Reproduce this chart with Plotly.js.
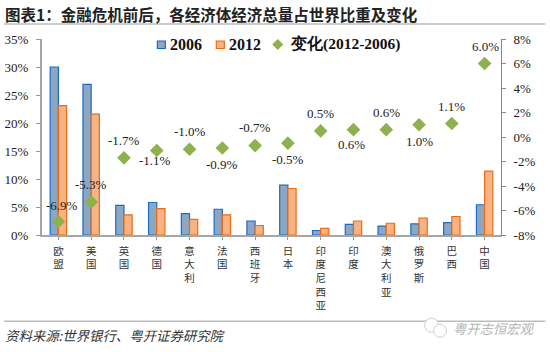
<!DOCTYPE html>
<html><head><meta charset="utf-8">
<script src="https://cdn.plot.ly/plotly-3.0.1.min.js"></script>
<style>html,body{margin:0;padding:0;background:#fff}#c{width:550px;height:352px}</style></head>
<body><div id="c"></div>
<script>
const categories=["欧<br>盟","美<br>国","英<br>国","德<br>国","意<br>大<br>利","法<br>国","西<br>班<br>牙","日<br>本","印<br>度<br>尼<br>西<br>亚","印<br>度","澳<br>大<br>利<br>亚","俄<br>罗<br>斯","巴<br>西","中<br>国"];
const share2006=[30,26.9,5.3,5.8,3.8,4.6,2.5,8.9,0.8,1.9,1.6,2.0,2.2,5.4];
const share2012=[23.1,21.6,3.6,4.7,2.8,3.6,1.7,8.3,1.2,2.5,2.1,3.0,3.3,11.4];
const change=[-6.9,-5.3,-1.7,-1.1,-1.0,-0.9,-0.7,-0.5,0.5,0.6,0.6,1.0,1.1,6.0];
const changeLabels=["-6.9%","-5.3%","-1.7%","-1.1%","-1.0%","-0.9%","-0.7%","-0.5%","0.5%","0.6%","0.6%","1.0%","1.1%","6.0%"];
const leftTicks=[0,5,10,15,20,25,30,35];
const rightTicks=[-8,-6,-4,-2,0,2,4,6,8];
// label placement relative to each marker, in pixels
const labelShiftY=[16,17,17,-10,18,-16,18,-16,17,-15,17,-17,17,17];
const labelShiftX=[4,0,0,-2,0,0,0,0,0,-2,0,0,0,1];
const serif='"Liberation Serif",serif';
const cjk='"Noto Sans CJK SC",sans-serif';
const idx=categories.map((_,i)=>i);
const L=42,R=501.5,T=39,B=235.5;
const px=x=>(x-L)/(R-L), py=y=>(B-y)/(B-T);
const textDark='#222';
const traces=[
 {type:'bar',name:'2006',x:idx,y:share2006,offset:-0.25,width:0.25,marker:{color:'#8da6c2',line:{color:'#1a6cc4',width:1.2}}},
 {type:'bar',name:'2012',x:idx,y:share2012,offset:0,width:0.25,marker:{color:'#f7b383',line:{color:'#ea6d14',width:1.2}}},
 {type:'scatter',mode:'markers',name:'变化(2012-2006)',x:idx,y:change,yaxis:'y2',cliponaxis:false,marker:{symbol:'diamond',size:10.5,color:'#8fb04f'}}
];
const note=(x,y,text,font,anchor)=>({xref:'paper',yref:'paper',x:px(x),y:py(y),xanchor:anchor||'left',yanchor:'middle',showarrow:false,text,font,borderpad:0});
const rule=(x0,x1,y)=>({type:'line',xref:'paper',yref:'paper',x0:px(x0),x1:px(x1),y0:py(y),y1:py(y),line:{color:'#bdbdbd',width:1.5}});
const box=(x0,x1,y0,y1,fill,line)=>({type:'rect',xref:'paper',yref:'paper',x0:px(x0),x1:px(x1),y0:py(y0),y1:py(y1),fillcolor:fill,line:{color:line,width:1.2}});
const legendFont=s=>({family:serif,size:s,weight:'bold',color:'#111'});
const layout={
 width:550,height:352,margin:{l:L,r:550-R,t:T,b:352-B},paper_bgcolor:'#fff',plot_bgcolor:'#fff',
 barmode:'overlay',showlegend:false,
 xaxis:{range:[-0.5,13.5],tickmode:'array',tickvals:idx,ticktext:categories,tickson:'boundaries',ticks:'outside',ticklen:3,tickcolor:'#999',tickwidth:1,ticklabelstandoff:2,showline:true,linecolor:'#a6a6a6',linewidth:2,showgrid:false,zeroline:false,tickangle:0,tickfont:{family:cjk,size:10.5,color:'#333'}},
 yaxis:{range:[0,35],tickmode:'array',tickvals:leftTicks,ticktext:leftTicks.map(v=>v+'%'),ticks:'outside',ticklen:4,tickcolor:'#999',ticklabelstandoff:5,showline:true,linecolor:'#a6a6a6',linewidth:2,showgrid:false,zeroline:false,tickfont:{family:serif,size:13,color:textDark}},
 yaxis2:{overlaying:'y',side:'right',range:[-8,8],tickmode:'array',tickvals:rightTicks,ticktext:rightTicks.map(v=>v+'%'),ticks:'outside',ticklen:4,tickcolor:'#888',ticklabelstandoff:5,showline:true,linecolor:'#888',linewidth:1,showgrid:false,zeroline:false,tickfont:{family:serif,size:13,color:textDark}},
 title:{text:'图表1：金融危机前后，各经济体经济总量占世界比重及变化',x:5/550,xanchor:'left',y:1-16/352,yanchor:'middle',font:{family:cjk,size:15.5,weight:'bold',color:'#222'}},
 shapes:[
  rule(4,546,24),rule(4,546,322),
  box(157.5,165.5,41,48.5,'#8da6c2','#1a6cc4'),
  box(216.5,224.5,41,48.5,'#f7b383','#ea6d14'),
  {type:'path',xref:'paper',yref:'paper',path:`M ${px(272.5)} ${py(44.5)} L ${px(278)} ${py(39)} L ${px(283.5)} ${py(44.5)} L ${px(278)} ${py(50)} Z`,fillcolor:'#8fb04f',line:{width:0}},
  {type:'circle',xref:'paper',yref:'paper',x0:px(425),x1:px(439),y0:py(319),y1:py(333),fillcolor:'#fff',line:{color:'#d0d0d0',width:1}},
  {type:'circle',xref:'paper',yref:'paper',x0:px(434),x1:px(447),y0:py(325),y1:py(338),fillcolor:'#fff',line:{color:'#d0d0d0',width:1}}
 ],
 annotations:[
  note(169,44.5,'2006',legendFont(16)),
  note(228,44.5,'2012',legendFont(16)),
  note(289,44.5,'变化(2012-2006)',legendFont(15.5)),
  note(4,336,'资料来源:世界银行、粤开证券研究院',{family:cjk,size:13.4,color:'#333',style:'italic'}),
  note(452,329,'粤开志恒宏观',{family:cjk,size:13.3,color:'#b5b5b5',style:'italic'})
 ].concat(idx.map(i=>({xref:'x',yref:'y2',x:i,y:change[i],xanchor:'center',yanchor:'middle',yshift:labelShiftY[i],xshift:labelShiftX[i],showarrow:false,text:changeLabels[i],font:{family:serif,size:13,color:textDark}})))
};
Plotly.newPlot('c',traces,layout,{displayModeBar:false,staticPlot:true});
</script></body></html>
